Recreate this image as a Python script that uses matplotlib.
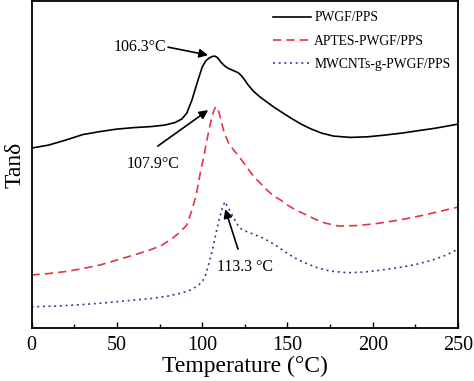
import matplotlib
matplotlib.use('Agg')
import matplotlib.pyplot as plt
from matplotlib.ticker import MultipleLocator

plt.rcParams['font.family'] = ['Liberation Serif', 'DejaVu Serif']

# temperature (degC) and tan delta (arbitrary, stacked curves)
t_pwgf = [0, 10, 20, 30, 40, 50, 60, 70, 78, 84, 88, 91, 94, 97, 100, 102, 104, 106, 107.5,
          109, 111, 113, 115, 117, 119, 121, 123, 125, 127, 130, 134, 138, 142, 147, 152,
          158, 164, 170, 177, 187, 197, 207, 217, 227, 237, 250]
tan_pwgf = [180, 183, 188, 193.5, 196.5, 199, 200.5, 201.5, 203, 205.5, 209, 215, 228, 245,
            261, 267, 270, 271.7, 272, 270.5, 266, 262.5, 260, 258.5, 257, 255.5, 252.5, 248,
            243, 237, 231, 226, 221, 215.5, 210, 204, 199, 195, 192, 190.7, 191.3, 193, 195,
            197.5, 200, 204]

t_aptes = [0, 10, 20, 30, 40, 50, 60, 70, 76, 82, 87, 91, 94, 96.5, 99, 101, 103, 105, 106.5,
           107.9, 109.5, 111, 113, 115.5, 118, 121, 124, 127, 130, 134, 138, 142, 146, 150,
           155, 160, 166, 172, 180, 190, 200, 210, 220, 230, 240, 250]
tan_aptes = [53, 54.5, 56.5, 59.5, 63, 68, 73, 78.5, 82.5, 89, 96, 103, 118, 133, 156, 172,
             190, 206, 216, 221.5, 218, 208, 195, 185, 179, 173, 166, 159, 152, 145, 138, 132,
             128, 123, 118, 114, 109, 105, 102, 102.5, 104, 106.5, 109.5, 113, 117, 121]

t_mwcnt = [0, 15, 30, 45, 60, 70, 80, 88, 93, 97, 100, 102, 104, 106, 108, 110, 111.8, 113.3,
           115, 117, 119.5, 122, 126, 130, 135, 140, 145, 150, 156, 162, 168, 175, 185, 195,
           205, 215, 225, 235, 243, 250]
tan_mwcnt = [21.3, 22, 23.5, 25.5, 28, 29.5, 32, 35, 38, 42, 46, 53, 65, 78, 94, 109, 120,
             126.3, 121, 115, 107, 100, 96.5, 94, 90.5, 86, 80.5, 74.5, 68.5, 64, 60, 57, 55.3,
             56, 58, 60.5, 63.5, 68, 73, 79]

labels = ['PWGF/PPS', 'APTES-PWGF/PPS', 'MWCNTs-g-PWGF/PPS']
peak_labels = ['106.3°C', '107.9°C', '113.3 °C']

fig = plt.figure(figsize=(4.74, 3.81), dpi=100)
ax = fig.add_axes([0.0665, 0.139, 0.900, 0.858])

ax.plot(t_pwgf, tan_pwgf, color='k', lw=1.2, label=labels[0])
ax.plot(t_aptes, tan_aptes, color='#e63346', lw=1.2, ls=(0, (5, 3)), label=labels[1])
ax.plot(t_mwcnt, tan_mwcnt, color='#3c3c8c', lw=1.2, ls=(0, (1.2, 2.2)), label=labels[2])

ax.set_xlim(0, 250)
ax.set_ylim(0, 327)
ax.set_yticks([])
ax.xaxis.set_minor_locator(MultipleLocator(25))
ax.xaxis.set_major_locator(MultipleLocator(50))
ax.tick_params(axis='x', which='both', direction='in', labelsize=14.5, pad=6, width=1)
ax.tick_params(axis='x', which='major', length=4)
ax.tick_params(axis='x', which='minor', length=3)
for s in ax.spines.values():
    s.set_linewidth(1.3)

ax.set_xlabel('Temperature (°C)', fontsize=17, labelpad=0)
ax.set_ylabel('Tanδ', fontsize=17, labelpad=4)

# peak annotations: arrows drawn separately from their labels
arrow = dict(arrowstyle='-|>', color='k', lw=1.2, mutation_scale=13, shrinkA=0, shrinkB=0)
ax.annotate('', xy=(103.5, 273), xytext=(80, 281), arrowprops=arrow)
ax.text(79, 281, peak_labels[0], fontsize=11.5, ha='right', va='center')
ax.annotate('', xy=(103.5, 218), xytext=(74, 182), arrowprops=arrow)
ax.text(71.5, 164, peak_labels[1], fontsize=11.5, ha='center', va='center')
ax.annotate('', xy=(113.5, 119), xytext=(121, 79), arrowprops=arrow)
ax.text(125, 61, peak_labels[2], fontsize=11.5, ha='center', va='center')

ax.legend(loc='upper right', frameon=False, fontsize=9.8, handlelength=2.8,
          handletextpad=0.25, labelspacing=0.75, borderaxespad=0,
          bbox_to_anchor=(0.995, 0.985))

fig.savefig('out.png', dpi=100)
